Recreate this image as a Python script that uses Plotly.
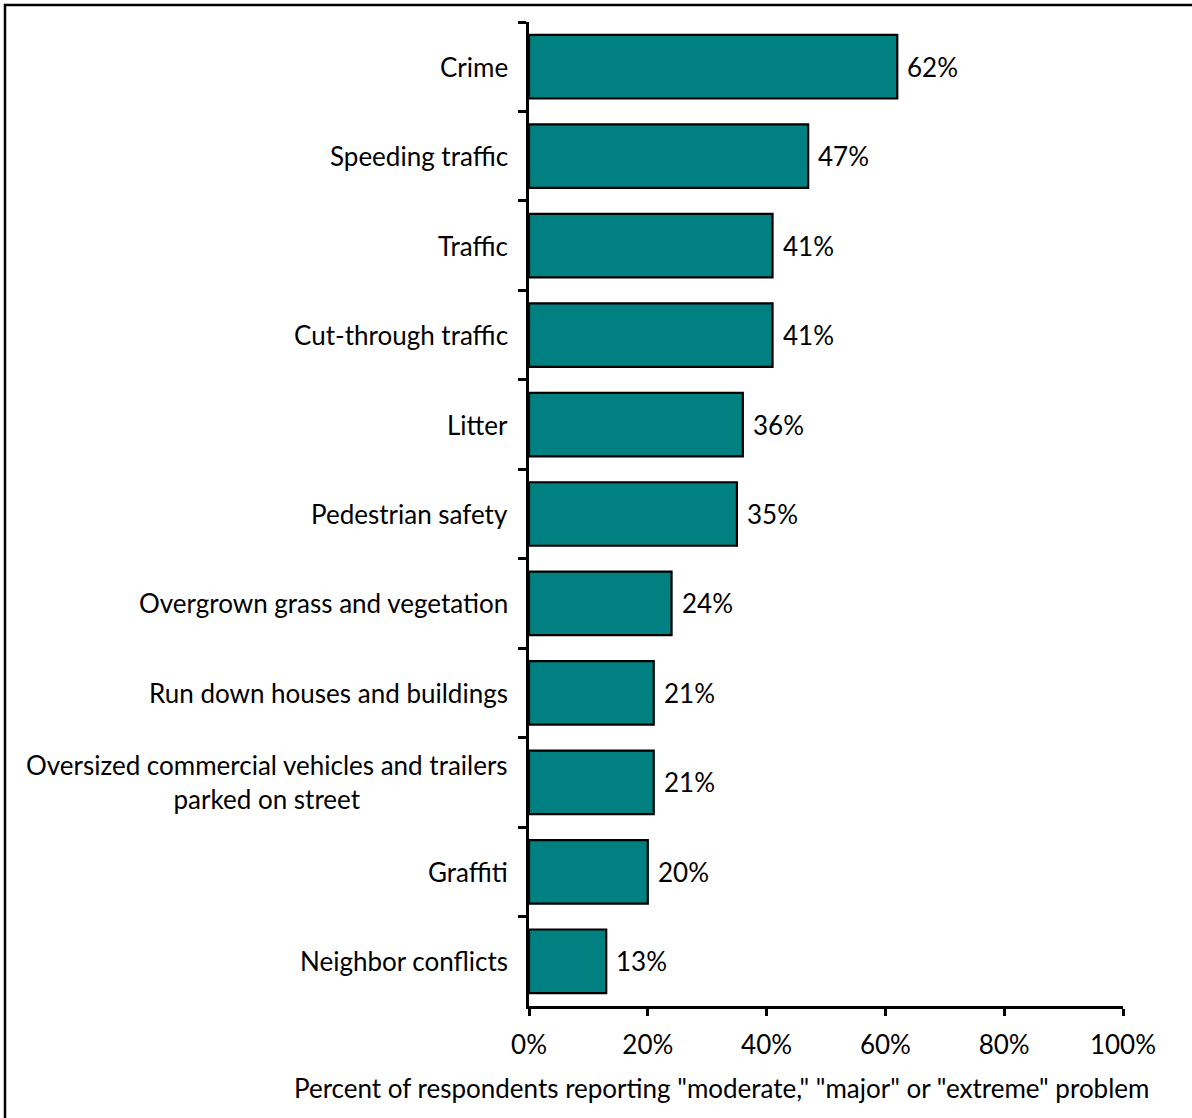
import plotly.graph_objects as go

categories = [
    "Crime",
    "Speeding traffic",
    "Traffic",
    "Cut-through traffic",
    "Litter",
    "Pedestrian safety",
    "Overgrown grass and vegetation",
    "Run down houses and buildings",
    "Oversized commercial vehicles and trailers<br>parked on street",
    "Graffiti",
    "Neighbor conflicts",
]
values = [62, 47, 41, 41, 36, 35, 24, 21, 21, 20, 13]
x_ticks = [0, 20, 40, 60, 80, 100]
x_ticklabels = ["0%", "20%", "40%", "60%", "80%", "100%"]
x_title = 'Percent of respondents reporting "moderate," "major" or "extreme" problem'

FONT = "Lato"
TEAL = "#008080"

W, H = 1192, 1118
L, R, T, B = 529, 69, 22, 112
PW, PH = W - L - R, H - T - B

fig = go.Figure()
fig.add_trace(go.Bar(
    x=values,
    y=categories,
    orientation="h",
    marker=dict(color=TEAL, line=dict(color="black", width=2.2)),
    width=0.71,
    cliponaxis=False,
    hoverinfo="skip",
))

annotations = []
for c in categories:
    annotations.append(dict(
        x=0, xref="paper", y=c, yref="y",
        text=c, showarrow=False, xanchor="right", yanchor="middle",
        align="center", xshift=-19,
        font=dict(family=FONT, size=26, color="black"),
    ))
for c, v in zip(categories, values):
    annotations.append(dict(
        x=v, xref="x", y=c, yref="y",
        text=f"{v}%", showarrow=False, xanchor="left", yanchor="middle",
        xshift=8,
        font=dict(family=FONT, size=26, color="black"),
    ))
annotations.append(dict(
    x=(721 - L) / PW, xref="paper", y=(H - B - 1088) / PH, yref="paper",
    text=x_title, showarrow=False, xanchor="center", yanchor="middle",
    font=dict(family=FONT, size=26, color="black"),
))

fig.update_layout(
    width=W, height=H,
    margin=dict(l=L, r=R, t=T, b=B),
    paper_bgcolor="white", plot_bgcolor="white",
    showlegend=False,
    font=dict(family=FONT, size=26, color="black"),
    annotations=annotations,
    xaxis=dict(
        range=[0, 100], tickvals=x_ticks, ticktext=x_ticklabels,
        showgrid=False, zeroline=False, showline=True, linecolor="black", linewidth=2.5,
        ticks="outside", ticklen=7, tickwidth=2.5, tickcolor="black",
        tickfont=dict(family=FONT, size=26),
        ticklabelstandoff=7,
        fixedrange=True,
    ),
    yaxis=dict(
        categoryorder="array", categoryarray=categories, autorange="reversed",
        showgrid=False, zeroline=False, showline=True, linecolor="black", linewidth=2.5,
        ticks="outside", ticklen=8, tickwidth=2.5, tickcolor="black",
        tickson="boundaries", showticklabels=False,
        fixedrange=True,
    ),
    shapes=[
        dict(type="line", xref="paper", yref="paper",
             x0=(4 - L) / PW, x1=2.0, y0=(H - B - 5) / PH, y1=(H - B - 5) / PH,
             line=dict(color="black", width=2.5)),
        dict(type="line", xref="paper", yref="paper",
             x0=(5 - L) / PW, x1=(5 - L) / PW, y0=(H - B - 4) / PH, y1=-0.5,
             line=dict(color="black", width=2.5)),
    ],
)

fig.write_html("out.html", config={"displayModeBar": False},
               post_script="document.body.style.margin='0';")
